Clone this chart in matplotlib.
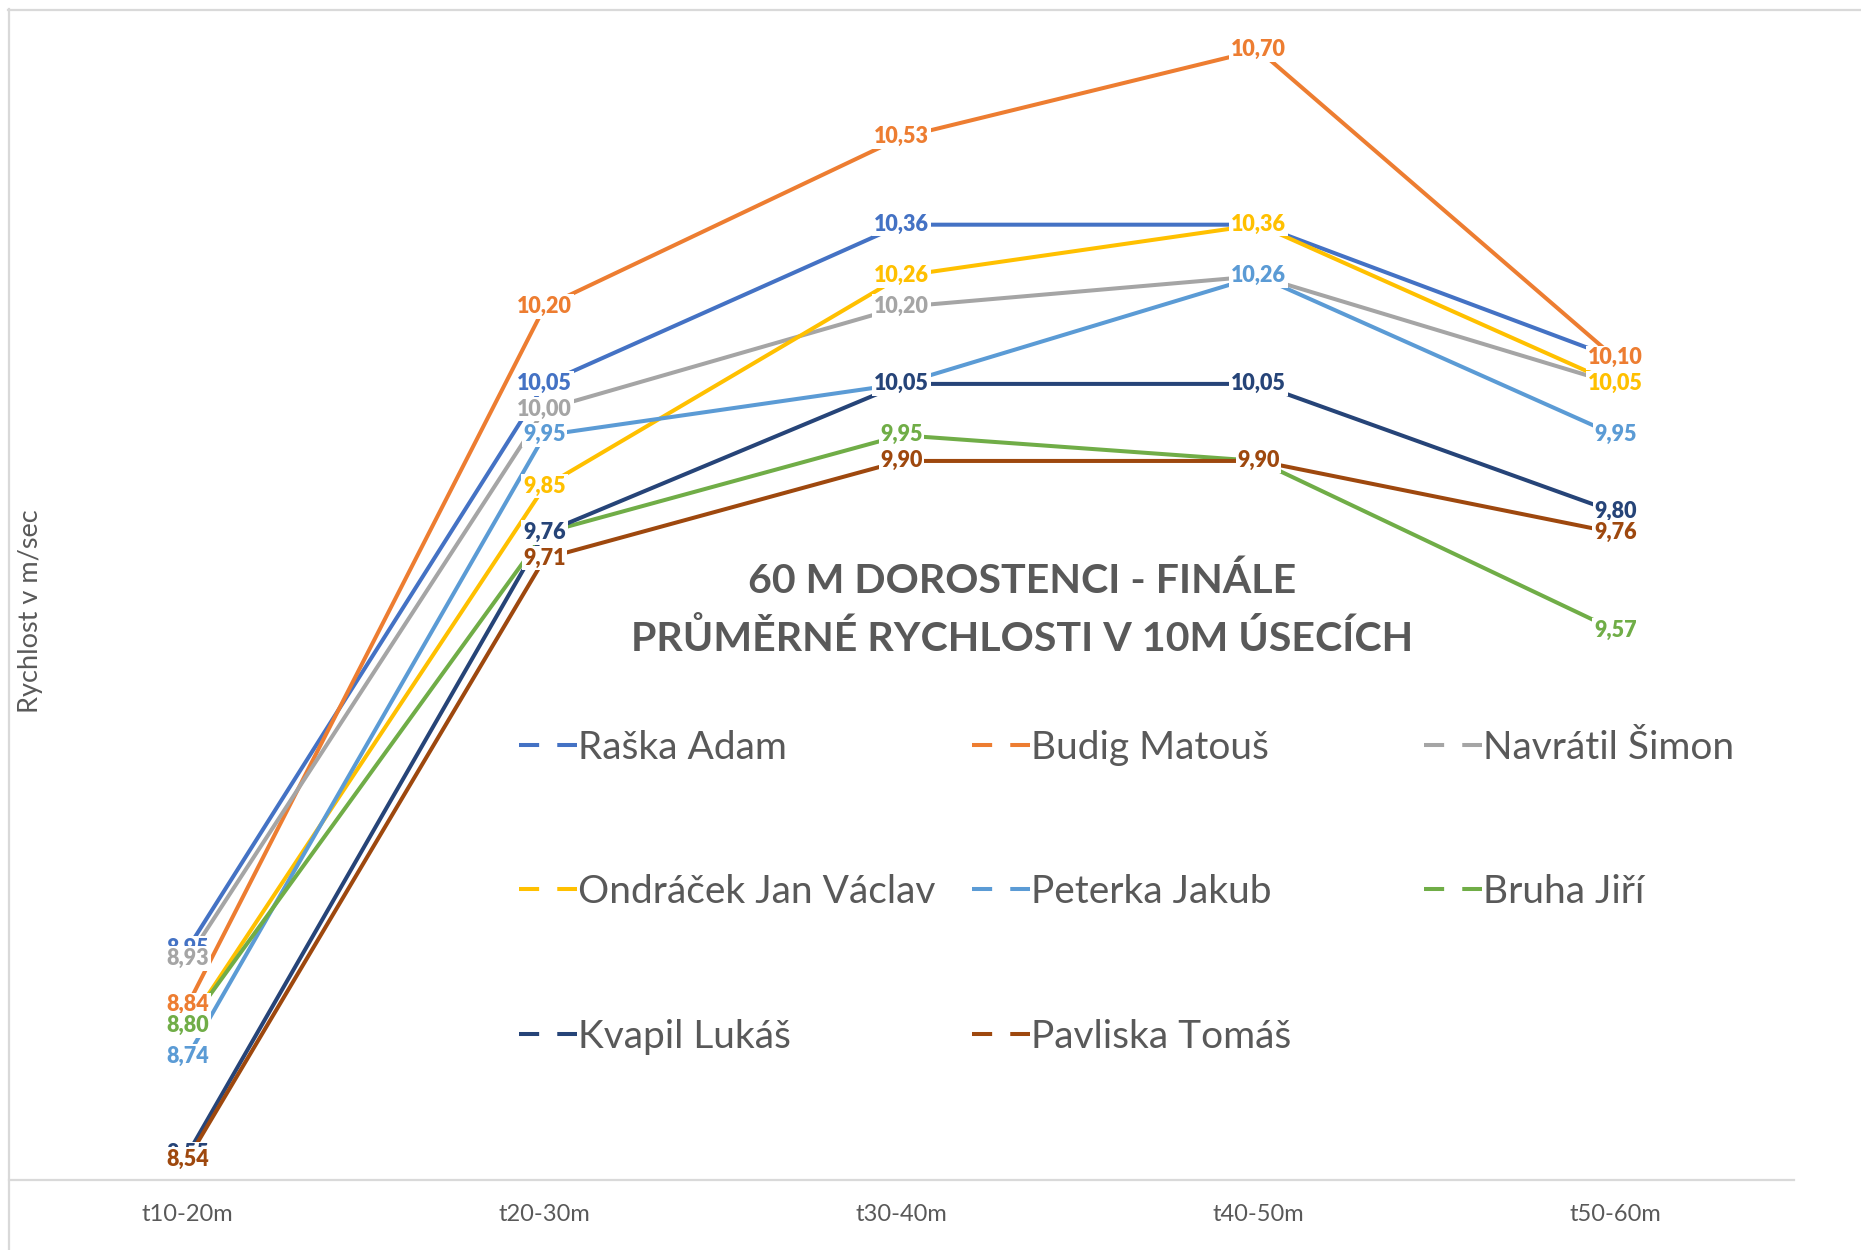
import matplotlib
matplotlib.use("Agg")
import matplotlib.pyplot as plt
from matplotlib.lines import Line2D

# ---------------- data ----------------
categories = ["t10-20m", "t20-30m", "t30-40m", "t40-50m", "t50-60m"]
series_names = ["Raška Adam", "Budig Matouš", "Navrátil Šimon",
                "Ondráček Jan Václav", "Peterka Jakub", "Bruha Jiří",
                "Kvapil Lukáš", "Pavliska Tomáš"]
raska = [8.95, 10.05, 10.36, 10.36, 10.10]
budig = [8.84, 10.20, 10.53, 10.70, 10.10]
navratil = [8.93, 10.00, 10.20, 10.26, 10.05]
ondracek = [8.80, 9.85, 10.26, 10.36, 10.05]
peterka = [8.74, 9.95, 10.05, 10.26, 9.95]
bruha = [8.80, 9.76, 9.95, 9.90, 9.57]
kvapil = [8.55, 9.76, 10.05, 10.05, 9.80]
pavliska = [8.54, 9.71, 9.90, 9.90, 9.76]
series_values = [raska, budig, navratil, ondracek, peterka, bruha, kvapil, pavliska]
colors = ["#4472C4", "#ED7D31", "#A5A5A5", "#FFC000",
          "#5B9BD5", "#70AD47", "#264478", "#9E480E"]
title_lines = ["60 M DOROSTENCI - FINÁLE", "PRŮMĚRNÉ RYCHLOSTI V 10M ÚSECÍCH"]
y_label = "Rychlost v m/sec"

# ---------------- layout helpers ----------------
W, H = 1861, 1250
plt.rcParams['font.family'] = ['Lato', 'DejaVu Sans']

def fx(px):
    return px / W

def fy(py):
    return 1 - py / H

fig = plt.figure(figsize=(W / 100, H / 100), dpi=100)
ax_left, ax_right, ax_top, ax_bottom = 9, 1794, 10, 1180
ax = fig.add_axes([fx(ax_left), fy(ax_bottom), fx(ax_right - ax_left),
                   (ax_bottom - ax_top) / H])

x = list(range(len(categories)))
LW = 2.9
for vals, col in zip(series_values, colors):
    ax.plot(x, vals, color=col, lw=LW, solid_capstyle='butt', zorder=2)

lab_fs = 15.5
for i, (vals, col) in enumerate(zip(series_values, colors)):
    for xi, v in zip(x, vals):
        ax.annotate(f"{v:.2f}".replace(".", ","), (xi, v),
                    xytext=(0, -0.28 * lab_fs), textcoords='offset points',
                    ha='center', va='baseline', fontsize=lab_fs,
                    fontweight='heavy', color=col, zorder=4 + i * 0.01,
                    bbox=dict(facecolor='white', edgecolor='none', pad=1.2))

ax.set_xlim(-0.5, len(categories) - 0.5)
ax.set_ylim(8.5, 10.778)
ax.set_xticks(x)
ax.set_xticklabels(categories, fontsize=17, color="#595959")
ax.tick_params(axis='x', length=0, pad=17)
ax.set_yticks([])
for s in ["left", "right", "top"]:
    ax.spines[s].set_visible(False)
ax.spines["bottom"].set_color("#D9D9D9")
ax.spines["bottom"].set_linewidth(1.6)
ax.patch.set_alpha(0)

# chart border (top and left, light gray)
fig.add_artist(Line2D([fx(8), 1], [fy(9.5), fy(9.5)], transform=fig.transFigure,
                      color="#D9D9D9", lw=1.6))
fig.add_artist(Line2D([fx(8.5), fx(8.5)], [fy(9), 0], transform=fig.transFigure,
                      color="#D9D9D9", lw=1.6))

# y label
fig.text(fx(31), fy(611), y_label, rotation=90, ha='center', va='center',
         fontsize=19.5, color="#595959")

# title
title_fs = 29.6
for line, cy in zip(title_lines, [578, 636]):
    fig.text(fx(1022), fy(cy + 0.36 * title_fs * 100 / 72), line, ha='center',
             va='baseline', fontsize=title_fs, fontweight='bold', color="#595959")

# legend (3 columns)
leg_fs = 28
col_x = [519, 972, 1424]
row_y = [745, 889, 1034]
for i, (name, col) in enumerate(zip(series_names, colors)):
    r, c = divmod(i, 3)
    x0, y0 = col_x[c], row_y[r]
    fig.add_artist(Line2D([fx(x0), fx(x0 + 58)], [fy(y0), fy(y0)],
                          transform=fig.transFigure, color=col, lw=LW,
                          linestyle=(0, (5, 4.5))))
    fig.text(fx(x0 + 59), fy(y0 + 0.36 * leg_fs * 100 / 72), name,
             ha='left', va='baseline', fontsize=leg_fs, color="#595959")

fig.savefig("out.png", dpi=100, facecolor="white")
